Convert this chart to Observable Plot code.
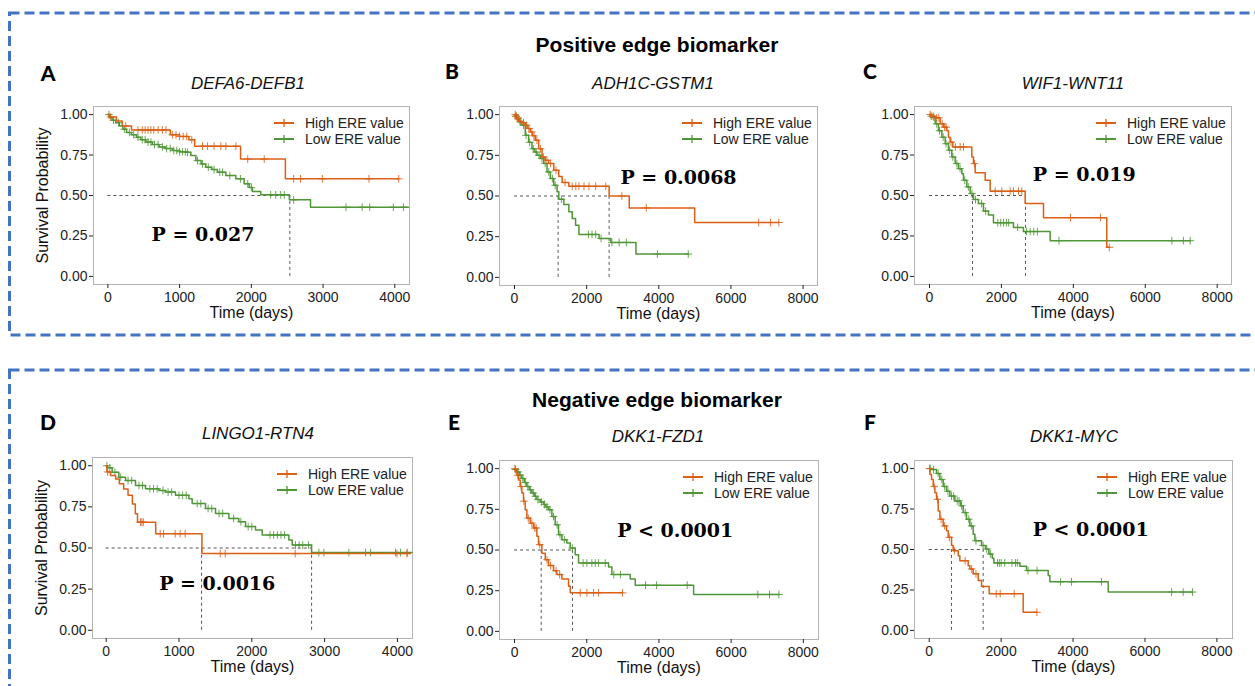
<!DOCTYPE html>
<html><head><meta charset="utf-8">
<script src="https://cdn.jsdelivr.net/npm/d3@7"></script>
<script src="https://cdn.jsdelivr.net/npm/@observablehq/plot@0.6"></script>
<style>
html,body{margin:0;padding:0;background:#fff;}
body{width:1255px;height:686px;overflow:hidden;position:relative;font-family:"Liberation Sans",Arial,sans-serif;color:#111;}
.abs{position:absolute;white-space:nowrap;}
.center{transform:translate(-50%,-50%);}
.sec{font-weight:bold;font-size:21px;color:#000;}
.letter{font-family:Lato,"Liberation Sans",sans-serif;font-weight:900;font-size:21px;color:#000;}
.ptitle{font-style:italic;font-size:17px;color:#111;}
.leg{font-size:14px;color:#222;transform:translateY(-50%);}
</style></head><body>
<script>
// ---------- data ----------
const sectionTitles = ["Positive edge biomarker", "Negative edge biomarker"];
const panelLetters = ["A", "B", "C", "D", "E", "F"];
const panelTitles = ["DEFA6-DEFB1", "ADH1C-GSTM1", "WIF1-WNT11", "LINGO1-RTN4", "DKK1-FZD1", "DKK1-MYC"];
const groupNames = ["High ERE value", "Low ERE value"];
const pLabels = ["P = 0.027", "P = 0.0068", "P = 0.019", "P = 0.0016", "P < 0.0001", "P < 0.0001"];
const pTime = [1327, 4547, 4305, 1525, 4451, 4491];
const pSurv = [0.257, 0.613, 0.625, 0.28, 0.62, 0.62];
const medians = [[2537], [1209, 2623], [1195, 2669], [1310, 2821], [739, 1607], [621, 1501]];
const xTicksShort = [0, 1000, 2000, 3000, 4000];
const xTicksLong = [0, 2000, 4000, 6000, 8000];
const yTicks = [0, 0.25, 0.5, 0.75, 1];
const xLabel = "Time (days)";
const yLabel = "Survival Probability";

// Panel A
const A_highT = [0, 30, 120, 200, 330, 870, 1000, 1130, 1210, 1850, 2475];
const A_highS = [1, 0.985, 0.96, 0.93, 0.905, 0.875, 0.865, 0.845, 0.805, 0.725, 0.603];
const A_highC = [40, 250, 420, 480, 520, 560, 600, 640, 700, 760, 810, 900, 950, 1000, 1050, 1100, 1170, 1320, 1390, 1480, 1575, 1645, 1785, 1950, 2180, 2590, 2685, 2990, 3640, 4056];
const A_highEnd = 4056;
const A_lowT = [0, 20, 60, 110, 160, 210, 260, 330, 400, 460, 530, 620, 715, 800, 900, 1000, 1090, 1157, 1227, 1300, 1366, 1450, 1528, 1645, 1784, 1900, 1970, 2016, 2132, 2530, 2825];
const A_lowS = [1, 0.98, 0.965, 0.95, 0.93, 0.91, 0.89, 0.875, 0.86, 0.845, 0.83, 0.815, 0.80, 0.79, 0.778, 0.77, 0.767, 0.747, 0.716, 0.695, 0.675, 0.66, 0.644, 0.623, 0.603, 0.572, 0.55, 0.525, 0.504, 0.473, 0.428];
const A_lowC = [15, 80, 150, 230, 300, 360, 420, 480, 520, 560, 600, 650, 700, 760, 820, 870, 920, 960, 1000, 1040, 1080, 1110, 1250, 1320, 1400, 1480, 1560, 1600, 1700, 1850, 1950, 2000, 2270, 2340, 2410, 2460, 2590, 3320, 3545, 3650, 3980, 4120];
const A_lowEnd = 4190;

// Panel B
const B_highT = [0, 30, 60, 112, 200, 298, 370, 437, 500, 577, 670, 763, 850, 949, 1088, 1228, 1321, 1507, 2623, 3181, 4995];
const B_highS = [1, 0.99, 0.98, 0.96, 0.95, 0.935, 0.915, 0.894, 0.87, 0.843, 0.79, 0.74, 0.72, 0.70, 0.658, 0.62, 0.583, 0.56, 0.50, 0.427, 0.337];
const B_highC = [20, 50, 90, 150, 250, 330, 400, 480, 540, 620, 720, 800, 900, 1000, 1150, 1400, 1600, 1700, 1786, 1926, 2065, 2251, 2530, 2976, 3654, 6770, 7095, 7328];
const B_highEnd = 7328;
const B_lowT = [0, 30, 65, 130, 205, 298, 391, 484, 560, 623, 716, 809, 902, 995, 1088, 1181, 1228, 1367, 1507, 1600, 1693, 1786, 2344, 2670, 3367];
const B_lowS = [1, 0.99, 0.975, 0.955, 0.935, 0.873, 0.83, 0.79, 0.77, 0.75, 0.73, 0.70, 0.648, 0.607, 0.566, 0.526, 0.48, 0.448, 0.403, 0.362, 0.32, 0.264, 0.239, 0.215, 0.143];
const B_lowC = [40, 100, 170, 250, 320, 420, 520, 600, 680, 760, 850, 950, 1050, 1130, 1300, 2050, 2150, 2250, 2400, 2700, 2900, 3100, 3961, 4817];
const B_lowEnd = 4817;

// Panel C
const C_highT = [0, 40, 158, 297, 389, 482, 528, 575, 649, 1177, 1223, 1270, 1548, 1687, 2660, 3170, 4930];
const C_highS = [1, 0.99, 0.98, 0.943, 0.922, 0.90, 0.86, 0.83, 0.80, 0.738, 0.697, 0.64, 0.594, 0.527, 0.45, 0.363, 0.18];
const C_highC = [20, 100, 200, 260, 350, 420, 460, 600, 720, 853, 945, 1250, 1826, 2011, 2243, 2335, 2474, 2567, 3921, 4755, 5000];
const C_highEnd = 5000;
const C_lowT = [0, 30, 65, 158, 250, 343, 436, 528, 621, 714, 806, 899, 945, 1038, 1131, 1223, 1362, 1501, 1640, 1779, 2335, 2613, 3355];
const C_lowS = [1, 0.99, 0.984, 0.943, 0.90, 0.86, 0.82, 0.78, 0.738, 0.697, 0.666, 0.635, 0.594, 0.553, 0.512, 0.475, 0.45, 0.404, 0.379, 0.332, 0.303, 0.277, 0.221];
const C_lowC = [50, 120, 200, 280, 380, 460, 560, 650, 760, 850, 980, 1080, 1180, 1280, 1450, 1560, 1900, 1980, 2060, 2140, 2200, 2450, 2700, 2800, 2900, 3000, 3600, 6740, 7060, 7250];
const C_lowEnd = 7250;

// Panel D
const D_highT = [0, 10, 60, 130, 180, 240, 300, 360, 400, 430, 680, 1315];
const D_highS = [1, 0.962, 0.94, 0.919, 0.89, 0.859, 0.82, 0.768, 0.708, 0.657, 0.587, 0.466];
const D_highC = [20, 470, 490, 510, 742, 788, 948, 1016, 1085, 1566, 1635, 2596, 3993, 4130];
const D_highEnd = 4180;
const D_lowT = [0, 20, 82, 174, 266, 403, 540, 723, 815, 952, 1136, 1181, 1364, 1502, 1685, 1822, 1914, 2051, 2143, 2509, 2555, 2821];
const D_lowS = [1, 0.988, 0.96, 0.93, 0.91, 0.88, 0.86, 0.85, 0.84, 0.82, 0.80, 0.77, 0.74, 0.71, 0.68, 0.66, 0.63, 0.609, 0.579, 0.548, 0.518, 0.472];
const D_lowC = [10, 50, 120, 200, 300, 350, 450, 500, 600, 650, 700, 780, 850, 900, 1000, 1050, 1100, 1250, 1300, 1400, 1450, 1550, 1600, 1750, 1850, 1950, 2000, 2250, 2300, 2350, 2400, 2450, 2600, 2650, 2700, 2780, 2921, 2990, 3333, 3562, 3631, 3974, 4043, 4134];
const D_lowEnd = 4200;

// Panel E
const E_highT = [0, 20, 65, 111, 157, 203, 249, 296, 342, 434, 527, 619, 665, 758, 850, 942, 1081, 1173, 1312, 1497, 1543];
const E_highS = [1, 0.99, 0.96, 0.93, 0.89, 0.85, 0.80, 0.747, 0.696, 0.665, 0.635, 0.584, 0.533, 0.48, 0.44, 0.404, 0.373, 0.349, 0.322, 0.278, 0.237];
const E_highC = [10, 90, 180, 260, 380, 480, 560, 600, 700, 900, 1000, 1150, 1250, 1820, 2005, 2189, 2328, 2993];
const E_highEnd = 2993;
const E_lowT = [0, 20, 65, 135, 203, 270, 342, 410, 480, 550, 619, 710, 804, 870, 942, 1035, 1127, 1219, 1312, 1450, 1543, 1681, 1774, 2605, 2697, 3205, 3344, 4961];
const E_lowS = [1, 0.995, 0.98, 0.96, 0.94, 0.915, 0.89, 0.87, 0.85, 0.83, 0.81, 0.795, 0.78, 0.765, 0.747, 0.706, 0.655, 0.594, 0.563, 0.543, 0.512, 0.471, 0.42, 0.396, 0.349, 0.322, 0.284, 0.227];
const E_lowC = [30, 100, 160, 230, 300, 370, 440, 520, 580, 650, 750, 830, 900, 980, 1080, 1180, 1260, 1380, 1600, 1900, 2005, 2143, 2236, 2328, 2513, 2751, 2935, 3629, 3934, 4784, 6740, 7063, 7323];
const E_lowEnd = 7323;

// Panel F
const F_highT = [0, 19, 65, 111, 158, 204, 250, 297, 389, 482, 528, 621, 667, 806, 852, 1084, 1131, 1223, 1362, 1455, 1668, 2613];
const F_highS = [1, 0.963, 0.933, 0.89, 0.85, 0.81, 0.738, 0.687, 0.646, 0.616, 0.575, 0.524, 0.493, 0.462, 0.431, 0.40, 0.38, 0.35, 0.309, 0.272, 0.227, 0.112];
const F_highC = [10, 140, 230, 330, 430, 560, 700, 1000, 1180, 1300, 1863, 1974, 2364, 2995];
const F_highEnd = 2995;
const F_lowT = [0, 65, 204, 297, 389, 482, 575, 714, 871, 945, 1038, 1131, 1223, 1270, 1455, 1566, 1659, 1752, 1798, 2521, 2706, 3309, 3355, 4977];
const F_lowS = [1, 0.994, 0.97, 0.933, 0.89, 0.86, 0.83, 0.80, 0.77, 0.728, 0.687, 0.646, 0.595, 0.554, 0.524, 0.503, 0.472, 0.446, 0.417, 0.397, 0.37, 0.339, 0.30, 0.237];
const F_lowC = [30, 120, 250, 350, 430, 520, 620, 680, 780, 830, 900, 1000, 1100, 1180, 1300, 1500, 1600, 1700, 1900, 1950, 2000, 2100, 2300, 2400, 2450, 2750, 3000, 3650, 3957, 4791, 6740, 7063, 7323];
const F_lowEnd = 7323;

// ---------- layout / style ----------
const ORANGE = "#db5f14", GREEN = "#4f9636", BLUE = "#4472c4";
const frames = [
  {l: 93, r: 409, t: 106, b: 284}, {l: 499, r: 817, t: 106, b: 285}, {l: 914, r: 1231, t: 106, b: 284},
  {l: 92, r: 412, t: 457, b: 638}, {l: 499, r: 818, t: 460, b: 639}, {l: 914, r: 1232, t: 460, b: 638}
];
const xDomains = [[-200, 4205], [-416, 8400], [-417, 8398], [-188, 4207], [-416, 8420], [-409, 8434]];
const letterPos = [[48, 72], [452, 70], [870, 70], [48, 421], [454, 421], [870, 421]];
const titlePos = [[248, 84], [653, 84], [1073, 84], [258, 434], [658, 437], [1074, 437]];
const sectionPos = [[657, 45], [657, 400]];

const panels = [
  {high: [A_highT, A_highS, A_highC, A_highEnd], low: [A_lowT, A_lowS, A_lowC, A_lowEnd], xt: xTicksShort, ylab: true},
  {high: [B_highT, B_highS, B_highC, B_highEnd], low: [B_lowT, B_lowS, B_lowC, B_lowEnd], xt: xTicksLong, ylab: false},
  {high: [C_highT, C_highS, C_highC, C_highEnd], low: [C_lowT, C_lowS, C_lowC, C_lowEnd], xt: xTicksLong, ylab: false},
  {high: [D_highT, D_highS, D_highC, D_highEnd], low: [D_lowT, D_lowS, D_lowC, D_lowEnd], xt: xTicksShort, ylab: true},
  {high: [E_highT, E_highS, E_highC, E_highEnd], low: [E_lowT, E_lowS, E_lowC, E_lowEnd], xt: xTicksLong, ylab: false},
  {high: [F_highT, F_highS, F_highC, F_highEnd], low: [F_lowT, F_lowS, F_lowC, F_lowEnd], xt: xTicksLong, ylab: false}
];

function survAt(T, S, t) { let s = S[0]; for (let i = 0; i < T.length; i++) { if (T[i] <= t) s = S[i]; else break; } return s; }
function stepPts([T, S, C, end]) { const p = T.map((t, i) => ({t, s: S[i]})); p.push({t: end, s: S[S.length - 1]}); return p; }
function censPts([T, S, C]) { return C.map(t => ({t, s: survAt(T, S, t)})); }

const ML = 93, MR = 12, MT = 50, MB = 45;
const NS = "http://www.w3.org/2000/svg";

function addDiv(cls, text, x, y, extra) {
  const d = document.createElement("div");
  d.className = "abs " + cls;
  d.textContent = text;
  d.style.left = x + "px"; d.style.top = y + "px";
  if (extra) Object.assign(d.style, extra);
  document.body.appendChild(d);
  return d;
}

panels.forEach((P, i) => {
  const f = frames[i];
  const fw = f.r - f.l, fh = f.b - f.t;
  const lineOpts = {x: "t", y: "s", curve: "step-after", strokeWidth: 1.5};
  const dotOpts = {x: "t", y: "s", symbol: "plus", r: 2.6, strokeWidth: 1, strokeOpacity: 0.85};
  const med = medians[i];
  const marks = [
    Plot.frame({stroke: "#b4b4b4", strokeWidth: 1}),
    Plot.axisX({ticks: P.xt, tickSize: 4, tickPadding: 4, label: null, tickFormat: d3.format("d"), fontSize: 14}),
    Plot.axisY({ticks: yTicks, tickSize: 4, tickPadding: 2, label: null, tickFormat: d3.format(".2f"), fontSize: 14}),
    Plot.ruleY([0.5], {x1: 0, x2: d3.max(med), stroke: "#555", strokeWidth: 1, strokeDasharray: "3,3"}),
    Plot.ruleX(med, {x: d => d, y1: 0, y2: 0.5, stroke: "#555", strokeWidth: 1, strokeDasharray: "3,3"}),
    Plot.line(stepPts(P.low), {...lineOpts, stroke: GREEN}),
    Plot.dot(censPts(P.low), {...dotOpts, stroke: GREEN}),
    Plot.line(stepPts(P.high), {...lineOpts, stroke: ORANGE}),
    Plot.dot(censPts(P.high), {...dotOpts, stroke: ORANGE}),
    Plot.text([pLabels[i]], {x: pTime[i], y: pSurv[i], text: d => d, fontFamily: "DejaVu Serif, serif", fontWeight: "bold", fontSize: 19, fill: "#000", ariaLabel: "pvalue"}),
    Plot.text([xLabel], {frameAnchor: "bottom", dy: 33, text: d => d, fontSize: 16, fill: "#111"})
  ];
  if (P.ylab) marks.push(Plot.text([yLabel], {frameAnchor: "left", textAnchor: "middle", rotate: -90, dx: -51, text: d => d, fontSize: 16, fill: "#111"}));
  const svg = Plot.plot({
    width: ML + fw + MR, height: MT + fh + MB,
    marginLeft: ML, marginRight: MR, marginTop: MT, marginBottom: MB,
    x: {domain: xDomains[i]},
    y: {domain: [-0.05, 1.05]},
    style: {background: "transparent", fontFamily: "'Liberation Sans', Arial, sans-serif", fontSize: "14px", color: "#222", overflow: "visible"},
    marks
  });
  svg.querySelectorAll('g[aria-label="pvalue"] text').forEach(el => {
    const txt = el.textContent;
    el.textContent = "";
    const t1 = document.createElementNS(NS, "tspan"); t1.setAttribute("font-style", "italic"); t1.textContent = txt.slice(0, 1);
    const t2 = document.createElementNS(NS, "tspan"); t2.textContent = txt.slice(1);
    el.append(t1, t2);
  });
  svg.style.position = "absolute";
  svg.style.left = (f.l - ML) + "px";
  svg.style.top = (f.t - MT) + "px";
  document.body.appendChild(svg);

  // legend (drawn inside the panel area)
  [[groupNames[0], ORANGE], [groupNames[1], GREEN]].forEach(([name, col], k) => {
    const cy = f.t + 17 + k * 15.5;
    const sw = document.createElementNS(NS, "svg");
    sw.setAttribute("width", 22); sw.setAttribute("height", 12);
    sw.style.position = "absolute"; sw.style.left = (f.r - 136) + "px"; sw.style.top = (cy - 6) + "px";
    sw.innerHTML = `<line x1="1" x2="21" y1="6" y2="6" stroke="${col}" stroke-width="2"/><line x1="11" x2="11" y1="2" y2="10" stroke="${col}" stroke-width="1.3"/>`;
    document.body.appendChild(sw);
    addDiv("leg", name, f.r - 104, cy);
  });

  addDiv("letter center", panelLetters[i], letterPos[i][0], letterPos[i][1]);
  addDiv("ptitle center", panelTitles[i], titlePos[i][0], titlePos[i][1]);
});

sectionTitles.forEach((s, k) => addDiv("sec center", s, sectionPos[k][0], sectionPos[k][1]));

// dashed section boxes
const box = document.createElementNS(NS, "svg");
box.setAttribute("width", 1255); box.setAttribute("height", 686);
box.style.position = "absolute"; box.style.left = "0px"; box.style.top = "0px"; box.style.pointerEvents = "none";
box.innerHTML = `<rect x="9.5" y="13" width="1262" height="322" fill="none" stroke="${BLUE}" stroke-width="3" stroke-dasharray="10,5"/>
<rect x="9.5" y="370" width="1262" height="400" fill="none" stroke="${BLUE}" stroke-width="3" stroke-dasharray="10,5"/>`;
document.body.appendChild(box);
</script>
</body></html>
